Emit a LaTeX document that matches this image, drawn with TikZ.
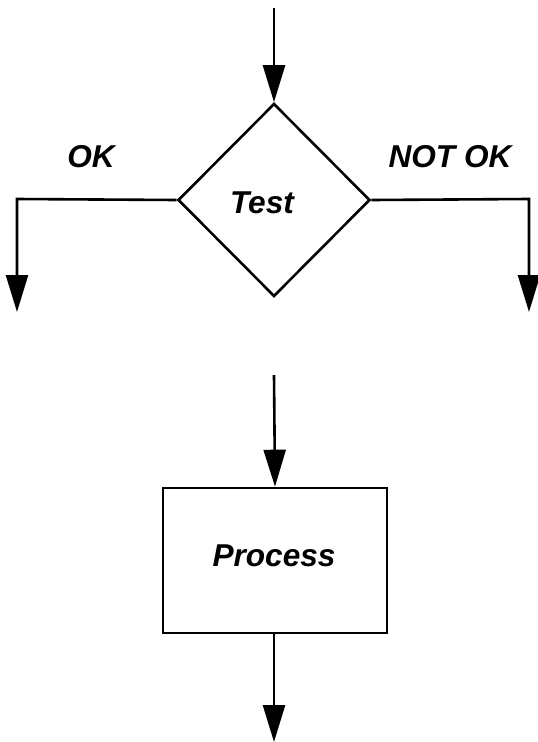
\documentclass[tikz,border=0pt]{standalone}
\usepackage{fontspec}
\setmainfont{Liberation Sans}
\usetikzlibrary{arrows.meta,shapes.geometric}
\begin{document}
\begin{tikzpicture}[x=1pt,y=-1pt,
  flow/.style={line width=2.6pt,-{Triangle[width=22pt,length=37pt]}},
  edge/.style={line width=2.6pt},
  lbl/.style={font=\fontsize{31.6}{36}\selectfont\bfseries\itshape,inner sep=0pt,anchor=base},
  decision/.style={diamond,draw,line width=2.6pt,minimum width=192pt,minimum height=193pt,inner sep=0pt},
  procbox/.style={rectangle,draw,line width=2.6pt,minimum width=224pt,minimum height=145pt,inner sep=0pt}]
\useasboundingbox (0,0) rectangle (538,742);
\fill[white] (0,0) rectangle (538,742);
\coordinate (start) at (274,8);
\node[decision] (test) at (274,200) {};
\node[lbl] (testlabel) at (262,213) {Test};
\node[lbl] (ok) at (91,167) {OK};
\node[lbl] (notok) at (450,167) {NOT OK};
\coordinate (lcorner) at (17,199);
\coordinate (lend) at (17,312);
\coordinate (rcorner) at (529,199);
\coordinate (rend) at (529,312);
\draw[flow] (start) -- (test.north);
\draw[flow] (test.west) -- (lcorner) -- (lend);
\draw[flow] (test.east) -- (rcorner) -- (rend);
\node[procbox] (proc) at (275,560.5) {};
\node[lbl] (proclabel) at (274,566) {Process};
\coordinate (pstart) at (274,375);
\coordinate (pend) at (274,742);
\draw[flow] (pstart) -- (proc.north);
\draw[flow] (proc.south -| pend) -- (pend);
\end{tikzpicture}
\end{document}
